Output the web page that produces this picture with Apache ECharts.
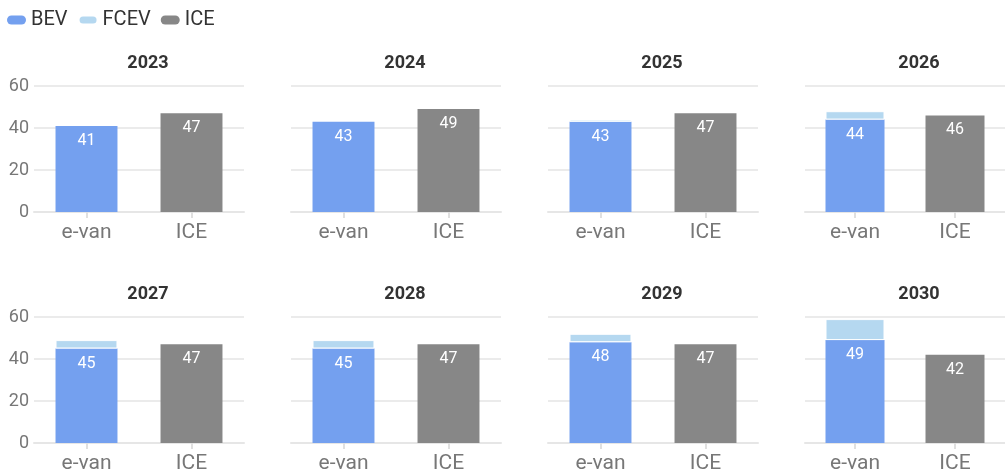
<!DOCTYPE html>
<html>
<head>
<meta charset="utf-8">
<script src="https://cdn.jsdelivr.net/npm/echarts@6/dist/echarts.min.js"></script>
<style>
  html, body { margin: 0; padding: 0; background: #fff; }
  #main { width: 1005px; height: 474px; }
</style>
</head>
<body>
<div id="main"></div>
<script>
  var years = ['2023', '2024', '2025', '2026', '2027', '2028', '2029', '2030'];
  var categories = ['e-van', 'ICE'];
  var bev = [41, 43, 43, 44, 45, 45, 48, 49];
  var fcev = [0, 0, 1, 4, 4, 4, 4, 10];
  var ice = [47, 49, 47, 46, 47, 47, 47, 42];
  var yTicks = [0, 20, 40, 60];

  var colBev = '#74a0ef';
  var colFcev = '#b5d8f0';
  var colIce = '#878787';
  var font = 'Roboto, "Noto Sans", sans-serif';

  var myChart = echarts.init(document.getElementById('main'));

  var grids = [], xAxes = [], yAxes = [], titles = [], series = [];
  for (let i = 0; i < years.length; i++) {
    let col = i % 4, row = Math.floor(i / 4);
    let left = 34 + 257 * col;
    let top = 86 + 231 * row;
    grids.push({ left: left, top: top, width: 210, height: 126 });
    titles.push({
      text: years[i],
      left: 143 + 257 * col,
      top: 49 + 231 * row,
      textAlign: 'center',
      textStyle: { fontFamily: font, fontSize: 18, fontWeight: 'bold', color: '#333' }
    });
    xAxes.push({
      type: 'category',
      gridIndex: i,
      data: categories,
      axisLine: { lineStyle: { color: '#e6e6e6', width: 2 } },
      axisTick: { show: true, alignWithLabel: true, length: 6, lineStyle: { color: '#e0e0e0', width: 2 } },
      axisLabel: { color: '#777', fontSize: 21, fontFamily: font, margin: 10 }
    });
    yAxes.push({
      type: 'value',
      gridIndex: i,
      min: yTicks[0],
      max: yTicks[yTicks.length - 1],
      interval: 20,
      axisLine: { show: false },
      axisTick: { show: false },
      splitLine: { lineStyle: { color: '#ebebeb', width: 2 } },
      axisLabel: { show: col === 0, color: '#777', fontSize: 18, fontFamily: font, margin: 5 }
    });
    let lbl = {
      show: true,
      position: 'insideTop',
      distance: 7,
      color: '#fff',
      fontSize: 16,
      fontFamily: font
    };
    series.push({
      name: 'BEV', type: 'bar', stack: 's' + i, xAxisIndex: i, yAxisIndex: i,
      barWidth: '59%',
      itemStyle: { color: colBev },
      label: lbl,
      data: [bev[i], '-']
    });
    series.push({
      name: 'FCEV', type: 'bar', stack: 's' + i, xAxisIndex: i, yAxisIndex: i,
      barWidth: '59%',
      itemStyle: { color: colFcev, borderColor: '#fff', borderWidth: 1 },
      data: [fcev[i] > 0 ? fcev[i] : '-', '-']
    });
    series.push({
      name: 'ICE', type: 'bar', stack: 's' + i, xAxisIndex: i, yAxisIndex: i,
      barWidth: '59%',
      itemStyle: { color: colIce },
      label: lbl,
      data: ['-', ice[i]]
    });
  }

  let option = {
    animation: false,
    title: titles,
    legend: {
      left: 2,
      top: 5,
      itemWidth: 19,
      itemHeight: 9,
      itemGap: 10,
      icon: 'path://M4.5,0 H14.5 A4.5,4.5 0 0 1 14.5,9 H4.5 A4.5,4.5 0 0 1 4.5,0 Z',
      textStyle: { fontFamily: font, fontSize: 20, color: '#333' },
      data: ['BEV', 'FCEV', 'ICE']
    },
    grid: grids,
    xAxis: xAxes,
    yAxis: yAxes,
    series: series
  };
  myChart.setOption(option);
</script>
</body>
</html>
